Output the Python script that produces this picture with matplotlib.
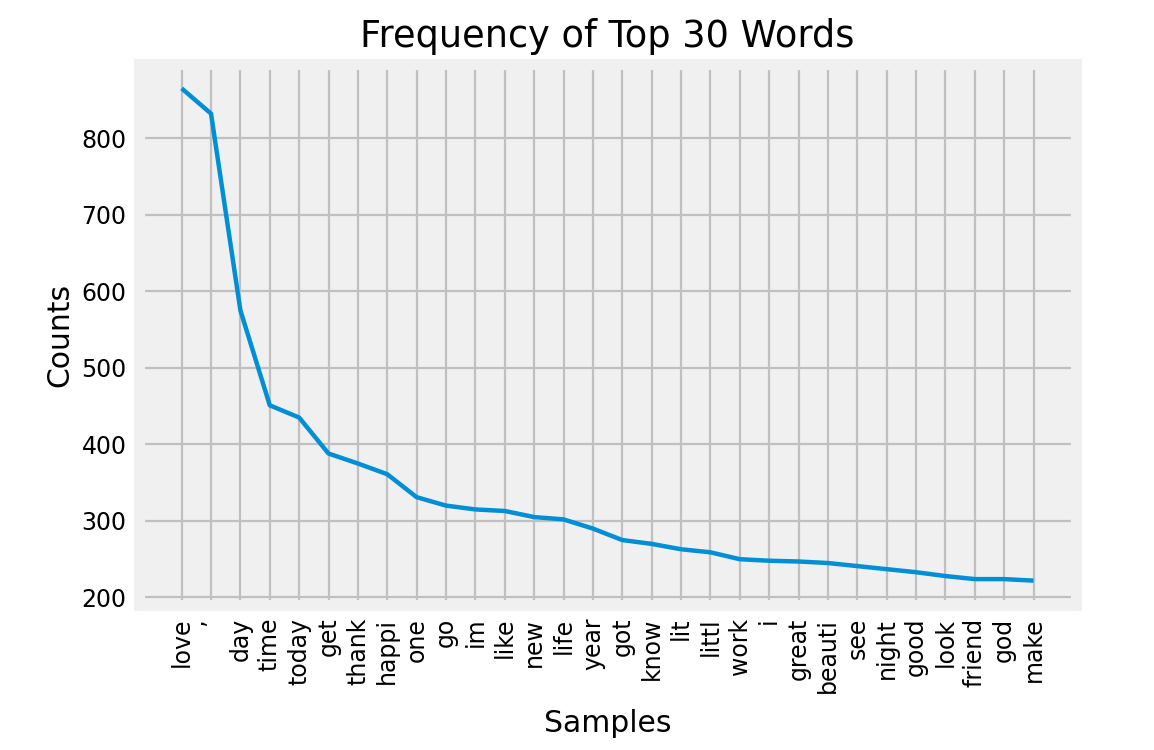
import numpy as np
import matplotlib as mpl
mpl.use('Agg')
import matplotlib.pyplot as plt

words = ["love", "\u2019", "day", "time", "today", "get", "thank", "happi", "one", "go",
         "im", "like", "new", "life", "year", "got", "know", "lit", "littl", "work",
         "i", "great", "beauti", "see", "night", "good", "look", "friend", "god", "make"]
counts = [865, 832, 575, 451, 435, 388, 375, 361, 331, 320,
          315, 313, 305, 302, 290, 275, 270, 263, 259, 250,
          248, 247, 245, 241, 237, 233, 228, 224, 224, 222]

plt.style.use('fivethirtyeight')
mpl.rcParams['font.family'] = ['DejaVu Sans']

fig = plt.figure(figsize=(11.54, 7.5), dpi=100, facecolor='white')
ax = fig.add_axes([0.1205, 0.193, 0.812, 0.722])
ax.set_facecolor('#f0f0f0')
for sp in ax.spines.values():
    sp.set_color('#f0f0f0')
    sp.set_linewidth(8)

ax.plot(range(len(words)), counts, color='#008fd5', linewidth=3.2)
ax.grid(True, color='silver', linewidth=1.6)
ax.set_xticks(range(len(words)))
ax.set_xticklabels(words, rotation=90, fontsize=17)
ax.tick_params(axis='y', labelsize=17)
ax.tick_params(axis='both', length=0, pad=9)
ax.set_xlabel("Samples", fontsize=21.5, labelpad=12)
ax.set_ylabel("Counts", fontsize=21.5, labelpad=5)
ax.set_title("Frequency of Top 30 Words", fontsize=26.5, pad=12)

plt.savefig("out.png", dpi=100, facecolor='white')
plt.close(fig)
